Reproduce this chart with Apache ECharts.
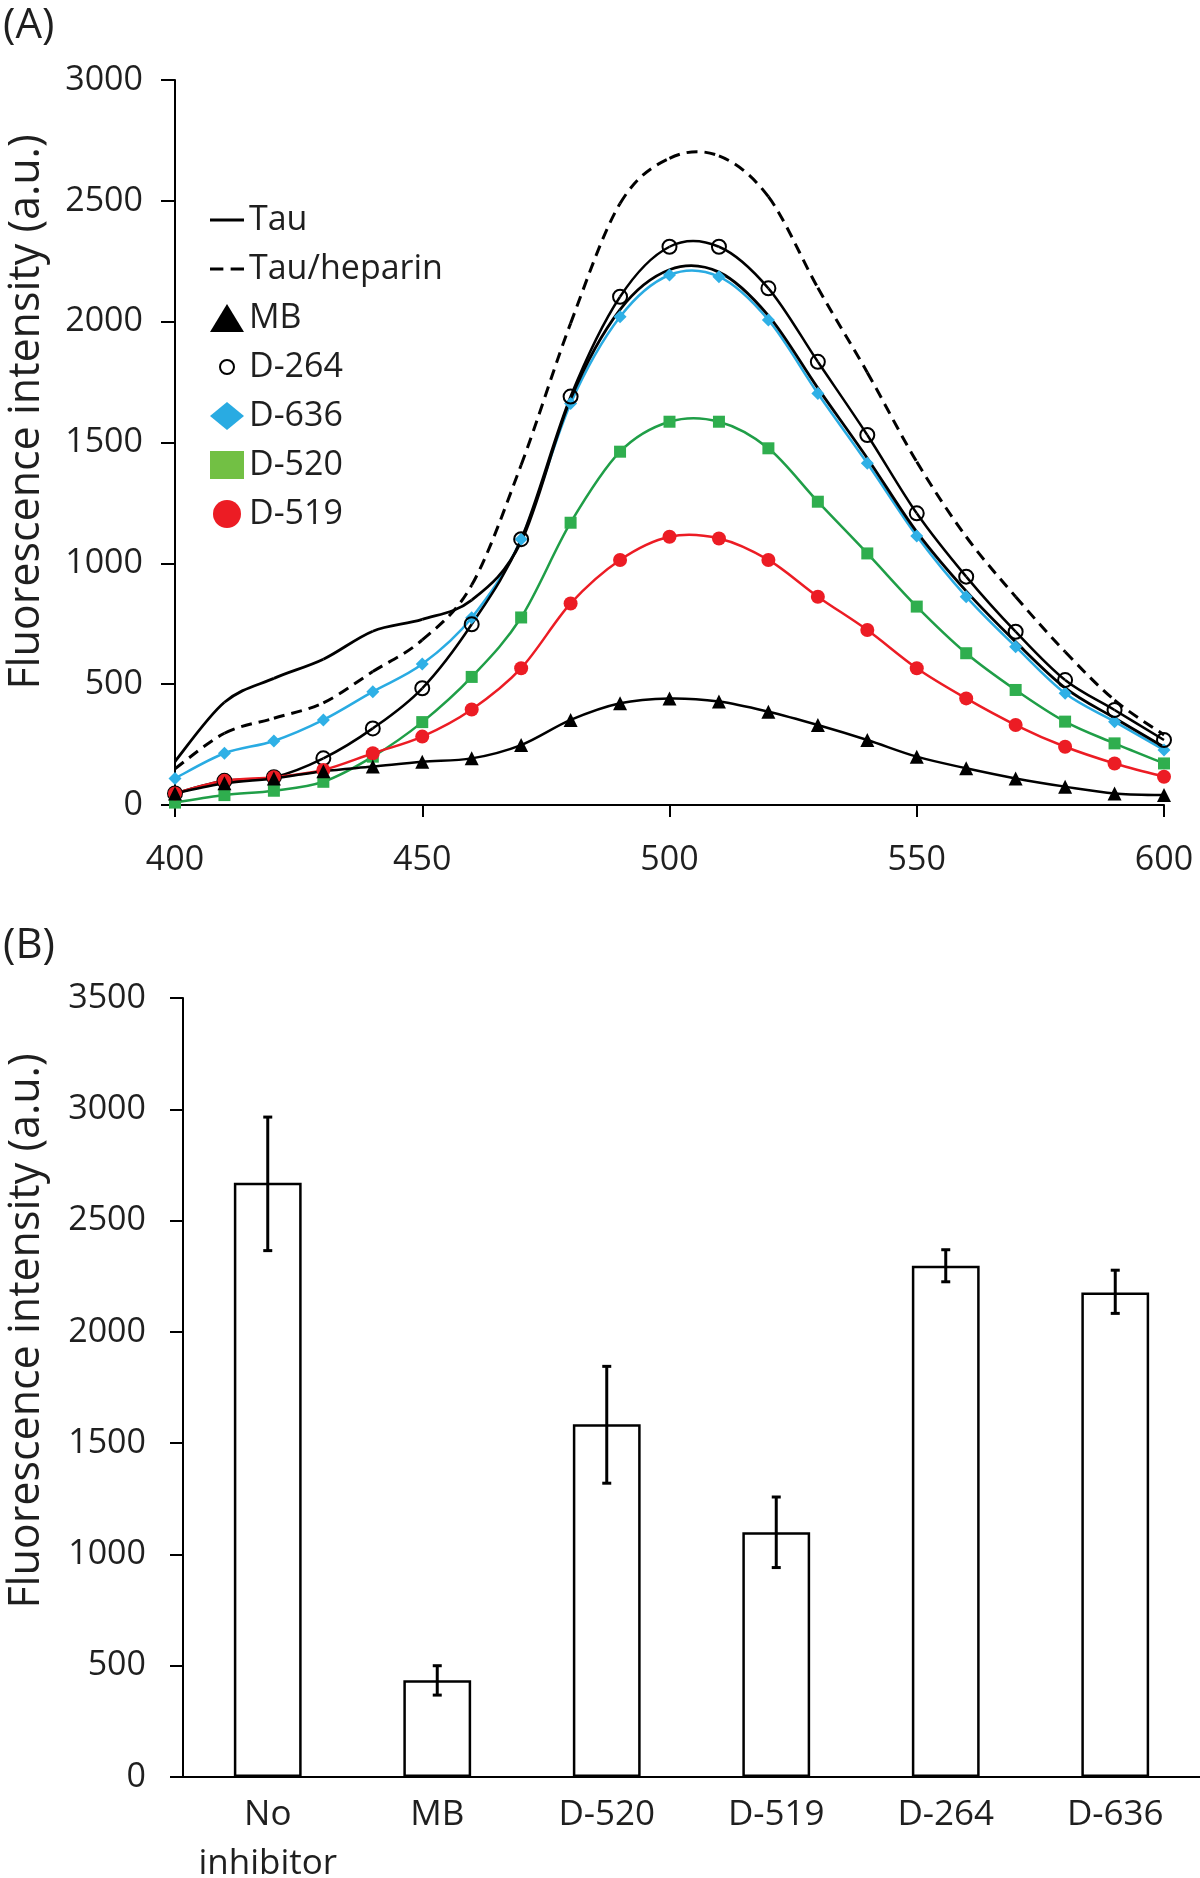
<!DOCTYPE html>
<html><head><meta charset="utf-8">
<script src="https://cdn.jsdelivr.net/npm/echarts@6/dist/echarts.min.js"></script>
<style>html,body{margin:0;padding:0;background:#fff}#c{width:1200px;height:1878px}</style>
</head><body><div id="c"></div>
<script>
// ---------- Panel A data ----------
const wavelengths = [400,410,420,430,440,450,460,470,480,490,500,510,520,530,540,550,560,570,580,590,600];
const tau        = [180,425,524,603,719,768,848,1090,1680,2050,2215,2205,2025,1725,1435,1130,885,675,485,360,240];
const tauHeparin = [150,297,359,423,552,683,910,1407,1993,2489,2676,2686,2517,2140,1790,1420,1110,862,634,434,290];
const mb   = [48,90,110,140,159,179,193,248,352,421,441,428,386,331,269,200,152,110,76,48,41];
const d264 = [48,100,115,193,317,483,748,1100,1690,2103,2310,2310,2138,1834,1531,1207,945,717,517,393,269];
const d636 = [110,214,265,352,469,583,775,1100,1661,2020,2193,2186,2007,1703,1414,1113,862,655,462,345,228];
const d520 = [10,41,59,96,200,343,530,776,1168,1462,1586,1586,1476,1255,1041,821,628,476,345,255,172];
const d519 = [48,100,115,145,214,283,395,566,834,1014,1110,1103,1014,862,724,566,441,331,241,172,117];
const xTicksA = {min:400, max:600, interval:50};
const yTicksA = {min:0, max:3000, interval:500};

// ---------- Panel B data ----------
const barCategories = ['No\ninhibitor','MB','D-520','D-519','D-264','D-636'];
const barValues = [2670,435,1585,1100,2297,2177];
const errLow  = [2365,368,1320,941,2225,2083];
const errHigh = [2965,500,1845,1258,2369,2277];
const yTicksB = {min:0, max:3500, interval:500};

const FONT = '"Open Sans", "Noto Sans", sans-serif';
const TXT = '#1f1f1f';
const pair = arr => wavelengths.map((w,i)=>[w, arr[i]]);

const chart = echarts.init(document.getElementById('c'), null, {renderer:'canvas'});

// Smooth (Catmull-Rom style) curve through the data points, drawn via the axis scale.
function splineSeries(name, arr, lineStyle, z){
  return {
    name:name, type:'custom', xAxisIndex:0, yAxisIndex:0, z:z, silent:true,
    data:pair(arr),
    renderItem:function(params, api){
      const i = params.dataIndexInside, n = params.dataInsideLength;
      if (i >= n-1) return null;
      const pt = k => api.coord([api.value(0, k), api.value(1, k)]);
      const p1 = pt(i), p2 = pt(i+1);
      const p0 = i > 0 ? pt(i-1) : p1;
      const p3 = i+2 < n ? pt(i+2) : p2;
      const t = 1/6;
      return {type:'bezierCurve', shape:{
        x1:p1[0], y1:p1[1], x2:p2[0], y2:p2[1],
        cpx1:p1[0]+(p2[0]-p0[0])*t, cpy1:p1[1]+(p2[1]-p0[1])*t,
        cpx2:p2[0]-(p3[0]-p1[0])*t, cpy2:p2[1]-(p3[1]-p1[1])*t
      }, style:Object.assign({fill:null}, lineStyle)};
    }
  };
}
function markerSeries(name, arr, symbol, size, itemStyle, z){
  return {name:name, type:'line', xAxisIndex:0, yAxisIndex:0, data:pair(arr),
    symbol:symbol, symbolSize:size, showAllSymbol:true,
    lineStyle:{width:0, opacity:0}, itemStyle:itemStyle, z:z, silent:true};
}

const plainNum = v => String(v);
const option = {
  animation:false,
  backgroundColor:'#fff',
  textStyle:{fontFamily:FONT},
  grid:[
    {left:175, right:36, top:80, bottom:1073, containLabel:false, outerBoundsMode:'none'},
    {left:183, right:0, top:998, bottom:101, containLabel:false, outerBoundsMode:'none'}
  ],
  xAxis:[
    {gridIndex:0, type:'value', min:xTicksA.min, max:xTicksA.max, interval:xTicksA.interval,
     axisLine:{lineStyle:{color:'#000', width:2}}, axisTick:{show:true, length:12, lineStyle:{color:'#000', width:2}},
     splitLine:{show:false},
     axisLabel:{fontSize:34, color:TXT, margin:38, fontFamily:FONT, formatter:plainNum}},
    {gridIndex:1, type:'category', data:barCategories,
     axisLine:{lineStyle:{color:'#000', width:2}}, axisTick:{show:false},
     axisLabel:{fontSize:35, color:TXT, margin:14, lineHeight:49, fontFamily:FONT, interval:0}}
  ],
  yAxis:[
    {gridIndex:0, type:'value', min:yTicksA.min, max:yTicksA.max, interval:yTicksA.interval,
     axisLine:{show:true, lineStyle:{color:'#000', width:2}}, axisTick:{show:true, length:14, lineStyle:{color:'#000', width:2}},
     splitLine:{show:false},
     axisLabel:{fontSize:34, color:TXT, margin:32, fontFamily:FONT, formatter:plainNum}},
    {gridIndex:1, type:'value', min:yTicksB.min, max:yTicksB.max, interval:yTicksB.interval,
     axisLine:{show:true, lineStyle:{color:'#000', width:2}}, axisTick:{show:true, length:13, lineStyle:{color:'#000', width:2}},
     splitLine:{show:false},
     axisLabel:{fontSize:34, color:TXT, margin:37, fontFamily:FONT, formatter:plainNum}}
  ],
  legend:{
    orient:'vertical', left:205, top:197, itemGap:13, itemWidth:34, itemHeight:28,
    selectedMode:false,
    textStyle:{fontSize:34, color:TXT, lineHeight:36, fontFamily:FONT},
    data:[
      {name:'Tau', icon:'path://M0,0H30V2.6H0Z', itemStyle:{color:'#000', borderWidth:0}},
      {name:'Tau/heparin', icon:'path://M0,0H11V2.6H0ZM17,0H28V2.6H17Z', itemStyle:{color:'#000', borderWidth:0}},
      {name:'MB', icon:'triangle', itemStyle:{color:'#000', borderWidth:0}},
      {name:'D-264', icon:'path://M0,0M28,28M7,14A7,7 0 1,0 21,14A7,7 0 1,0 7,14Z', itemStyle:{color:'rgba(0,0,0,0)', borderColor:'#000', borderWidth:2}},
      {name:'D-636', icon:'diamond', itemStyle:{color:'#29abe2', borderWidth:0}},
      {name:'D-520', icon:'rect', itemStyle:{color:'#72c044', borderWidth:0}},
      {name:'D-519', icon:'circle', itemStyle:{color:'#ec1c24', borderWidth:0}}
    ]
  },
  graphic:[
    {type:'text', left:3, top:5, style:{text:'(A)', font:'42px '+FONT, fill:TXT}},
    {type:'text', left:3, top:925, style:{text:'(B)', font:'42px '+FONT, fill:TXT}},
    {type:'text', x:27, y:412, rotation:Math.PI/2, style:{text:'Fluorescence intensity (a.u.)', font:'43px '+FONT, fill:TXT, align:'center', verticalAlign:'middle'}},
    {type:'text', x:27, y:1331, rotation:Math.PI/2, style:{text:'Fluorescence intensity (a.u.)', font:'43px '+FONT, fill:TXT, align:'center', verticalAlign:'middle'}}
  ],
  series:[
    splineSeries('Tau/heparin', tauHeparin, {stroke:'#000', lineWidth:3, lineDash:[11,7]}, 2),
    splineSeries('D-636 curve', d636, {stroke:'#29abe2', lineWidth:2.5}, 3),
    splineSeries('Tau', tau, {stroke:'#000', lineWidth:2.8}, 4),
    splineSeries('D-264 curve', d264, {stroke:'#000', lineWidth:2.5}, 5),
    splineSeries('D-520 curve', d520, {stroke:'#1f9e47', lineWidth:2.5}, 6),
    splineSeries('D-519 curve', d519, {stroke:'#ec1c24', lineWidth:2.5}, 7),
    splineSeries('MB curve', mb, {stroke:'#000', lineWidth:2.5}, 8),
    markerSeries('D-636', d636, 'diamond', 13, {color:'#2fb0e6'}, 13),
    markerSeries('D-264', d264, 'circle', 14, {color:'rgba(255,255,255,0)', borderColor:'#000', borderWidth:2}, 14),
    markerSeries('D-520', d520, 'rect', 12, {color:'#2fae4e'}, 15),
    markerSeries('D-519', d519, 'circle', 14, {color:'#ec1c24'}, 16),
    markerSeries('MB', mb, 'triangle', 14, {color:'#000'}, 17),
    {name:'bars', type:'bar', xAxisIndex:1, yAxisIndex:1, data:barValues, barWidth:'40%',
     itemStyle:{color:'#fff', borderColor:'#000', borderWidth:2.5}, z:2},
    {name:'err', type:'custom', xAxisIndex:1, yAxisIndex:1, z:5,
     data:barCategories.map((c,i)=>[i, errLow[i], errHigh[i]]),
     renderItem:function(params, api){
       const x = api.value(0);
       const pH = api.coord([x, api.value(2)]);
       const pL = api.coord([x, api.value(1)]);
       const h = 4.5;
       const st = {stroke:'#000', lineWidth:3};
       return {type:'group', children:[
         {type:'line', shape:{x1:pH[0], y1:pH[1], x2:pL[0], y2:pL[1]}, style:st},
         {type:'line', shape:{x1:pH[0]-h, y1:pH[1], x2:pH[0]+h, y2:pH[1]}, style:st},
         {type:'line', shape:{x1:pL[0]-h, y1:pL[1], x2:pL[0]+h, y2:pL[1]}, style:st}
       ]};
     }}
  ]
};
chart.setOption(option);
</script>
</body></html>
